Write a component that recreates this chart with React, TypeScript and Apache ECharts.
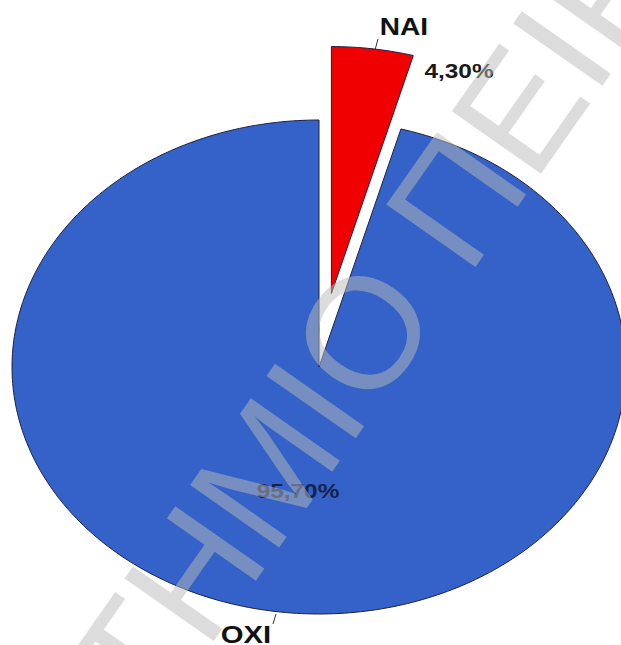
import React, { useEffect, useRef } from 'react';
import * as echarts from 'echarts';

const categories = ['ΝΑΙ', 'ΟΧΙ'];
const values = [4.3, 95.7];
const sliceColors = ['#f00000', '#3462c8'];
const watermarkWords = ['ΠΑΝΕΠΙΣΤΗΜΙΟ', 'ΠΕΙΡΑΙΩΣ'];

export default function App() {
  const ref = useRef<HTMLDivElement>(null);

  useEffect(() => {
    document.body.style.margin = '0';
    const chart = echarts.init(ref.current as HTMLDivElement, null, { renderer: 'svg' });
    const total = values.reduce((a, b) => a + b, 0);
    const cum: number[] = [];
    let acc = 0;
    values.forEach((v) => { cum.push(acc); acc += v; });

    const cx = 319, cy = 367, rx = 307, ry = 247;
    const explode = [0.3, 0];
    const sx = 1.22;
    const fmt = (v: number) => v.toFixed(2).replace('.', ',') + '%';
    const labelFont = (size: number) => `bold ${size}px "Liberation Sans", Arial, sans-serif`;

    const layout = [
      {
        name: { x: 404, y: 27, size: 23, fill: '#111111' },
        line: [375, 50, 378, 39],
        pct: { x: 459, y: 71, size: 20, fill: '#1a1a1a' },
      },
      {
        name: { x: 246, y: 635, size: 24, fill: '#111111' },
        line: [276, 614, 273, 624],
        pct: { x: 298, y: 491, size: 20, fill: '#17224a' },
      },
    ];

    const renderItem = (params: any, api: any) => {
      const i = params.dataIndex;
      const v = api.value(0);
      const s = api.value(1);
      const t0 = (s / total) * Math.PI * 2;
      const t1 = ((s + v) / total) * Math.PI * 2;
      const mid = (t0 + t1) / 2;
      const ox = explode[i] * rx * Math.sin(mid);
      const oy = -explode[i] * ry * Math.cos(mid);
      const pts: number[][] = [[cx + ox, cy + oy]];
      const n = Math.max(8, Math.ceil(((t1 - t0) / (Math.PI * 2)) * 360));
      for (let k = 0; k <= n; k++) {
        const t = t0 + ((t1 - t0) * k) / n;
        pts.push([cx + ox + rx * Math.sin(t), cy + oy - ry * Math.cos(t)]);
      }
      const L = layout[i];
      return {
        type: 'group',
        children: [
          {
            type: 'polygon',
            shape: { points: pts },
            style: { fill: sliceColors[i], stroke: '#1c2242', lineWidth: 1 },
          },
          {
            type: 'line',
            shape: { x1: L.line[0], y1: L.line[1], x2: L.line[2], y2: L.line[3] },
            style: { stroke: '#333333', lineWidth: 1 },
          },
          {
            type: 'text',
            x: L.name.x,
            y: L.name.y,
            scaleX: sx,
            style: {
              text: categories[i],
              fill: L.name.fill,
              font: labelFont(L.name.size),
              align: 'center',
              verticalAlign: 'middle',
            },
          },
          {
            type: 'text',
            x: L.pct.x,
            y: L.pct.y,
            scaleX: sx,
            style: {
              text: fmt(v),
              fill: L.pct.fill,
              font: labelFont(L.pct.size),
              align: 'center',
              verticalAlign: 'middle',
            },
          },
        ],
      };
    };

    const rot = (55 * Math.PI) / 180;
    const wmStyle = {
      fill: 'rgba(186,186,186,0.5)',
      font: '158px "Liberation Sans", Arial, sans-serif',
      verticalAlign: 'middle',
    };

    chart.setOption({
      animation: false,
      backgroundColor: '#ffffff',
      series: [
        {
          type: 'custom',
          coordinateSystem: 'none',
          renderItem,
          data: values.map((v, i) => ({ name: categories[i], value: [v, cum[i]] })),
        },
      ],
      graphic: [
        {
          type: 'text',
          x: 398,
          y: 282,
          rotation: rot,
          z: 100,
          silent: true,
          style: { ...wmStyle, text: watermarkWords[0], align: 'right' },
        },
        {
          type: 'text',
          x: 423,
          y: 246,
          rotation: rot,
          z: 100,
          silent: true,
          style: { ...wmStyle, text: watermarkWords[1], align: 'left' },
        },
      ],
    });

    return () => chart.dispose();
  }, []);

  return <div ref={ref} style={{ width: 621, height: 645 }} />;
}
